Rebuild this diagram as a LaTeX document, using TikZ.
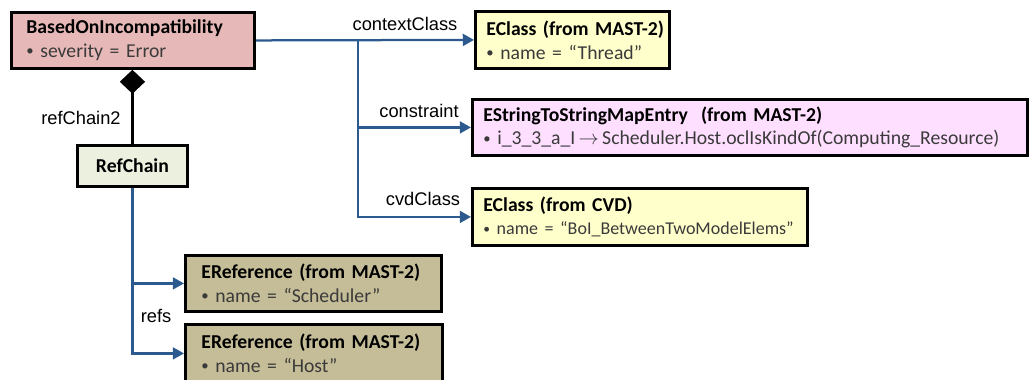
\documentclass[tikz,border=0pt]{standalone}
\usepackage{fontspec}
\setmainfont{Carlito}
\newfontfamily\labelfont{Liberation Sans}
\usetikzlibrary{arrows.meta}
\definecolor{boifill}{HTML}{E6B9B8}
\definecolor{chainfill}{HTML}{EBF1DE}
\definecolor{classfill}{HTML}{FFFFCC}
\definecolor{mapfill}{HTML}{FFDFFF}
\definecolor{reffill}{HTML}{C4BD97}
\definecolor{linkblue}{HTML}{2D5A8E}
\definecolor{attrgrey}{HTML}{3A3A3A}
\tikzset{box/.style={draw, line width=2pt, anchor=north west, align=left, inner ysep=0pt, font=\fontsize{14}{17}\selectfont}}
\tikzset{assoc/.style={line width=1.6pt, draw=linkblue, -{Triangle[length=8pt, width=8.5pt]}}}
\tikzset{comp/.style={line width=2.5pt, black, -{Diamond[length=17pt, width=18pt]}}}
\tikzset{lbl/.style={font=\labelfont\fontsize{13}{15}\selectfont, inner sep=0pt}}
\newcommand{\head}[1]{\mbox{\textbf{#1}}}
\newcommand{\attr}[1]{\mbox{\color{attrgrey}\raisebox{0.2ex}{\scalebox{0.75}{\textbullet}}\ #1}}

\begin{document}
\begin{tikzpicture}[x=0.025cm, y=-0.025cm]
		\useasboundingbox (0,0) rectangle (1029,380);

		% Boxes
		\node[box, fill=boifill, inner xsep=0.375cm, text width=5.325cm, minimum height=1.4cm] (boi) at (10,11)
			{\head{BasedOnIncompatibility}\\ \attr{severity = Error}};
		\node[box, fill=chainfill, minimum width=2.75cm, minimum height=1.025cm] (rc) at (76,144)
			{\head{RefChain}};
		\node[box, fill=classfill, inner xsep=0.275cm, text width=4.3cm, minimum height=1.425cm] (e1) at (474,10)
			{\head{EClass (from MAST-2)}\\ \attr{name = “Thread”}};
		\node[box, fill=mapfill, inner xsep=0.275cm, text width=13.325cm, minimum height=1.4cm] (estr) at (471,98)
			{\head{EStringToStringMapEntry\ \ (from MAST-2)}\\ \attr{i\_3\_3\_a\_I\,$\rightarrow$\,Scheduler.Host.oclIsKindOf(Computing\_Resource)}};
		\node[box, fill=classfill, inner xsep=0.275cm, text width=7.825cm, minimum height=1.425cm] (ecvd) at (471,187)
			{\head{EClass (from CVD)}\\ {\fontsize{12.8}{17}\selectfont\attr{name = “BoI\_BetweenTwoModelElems”}}};
		\node[box, fill=reffill, inner xsep=0.4cm, text width=5.6cm, minimum height=1.4cm] (ref1) at (184,254)
			{\head{EReference (from MAST-2)}\\ \attr{name = “Scheduler”}};
		\node[box, fill=reffill, inner xsep=0.4cm, text width=5.625cm, minimum height=1.45cm] (ref2) at (184,323)
			{\head{EReference (from MAST-2)}\\ \attr{name = “Host”}};

		% Composition
		\draw[comp] (rc.north) -- (rc.north |- boi.south);
		\node[lbl] (lchain) at (81,118) {refChain2};

		% Associations
		\coordinate (split) at (358,39);
		\draw[assoc] (boi.east) -- (e1.west);
		\draw[assoc] (split) |- (estr.west);
		\draw[assoc] (split) |- (ecvd.west);
		\draw[assoc] (rc.south) |- (ref1.west);
		\draw[assoc] (rc.south) |- (ref2.west);

		% Labels
		\node[lbl] (lctx) at (405,24) {contextClass};
		\node[lbl] (lcons) at (419,111) {constraint};
		\node[lbl] (lcvd) at (423,199) {cvdClass};
		\node[lbl] (lrefs) at (156,316) {refs};
	\end{tikzpicture}
\end{document}
